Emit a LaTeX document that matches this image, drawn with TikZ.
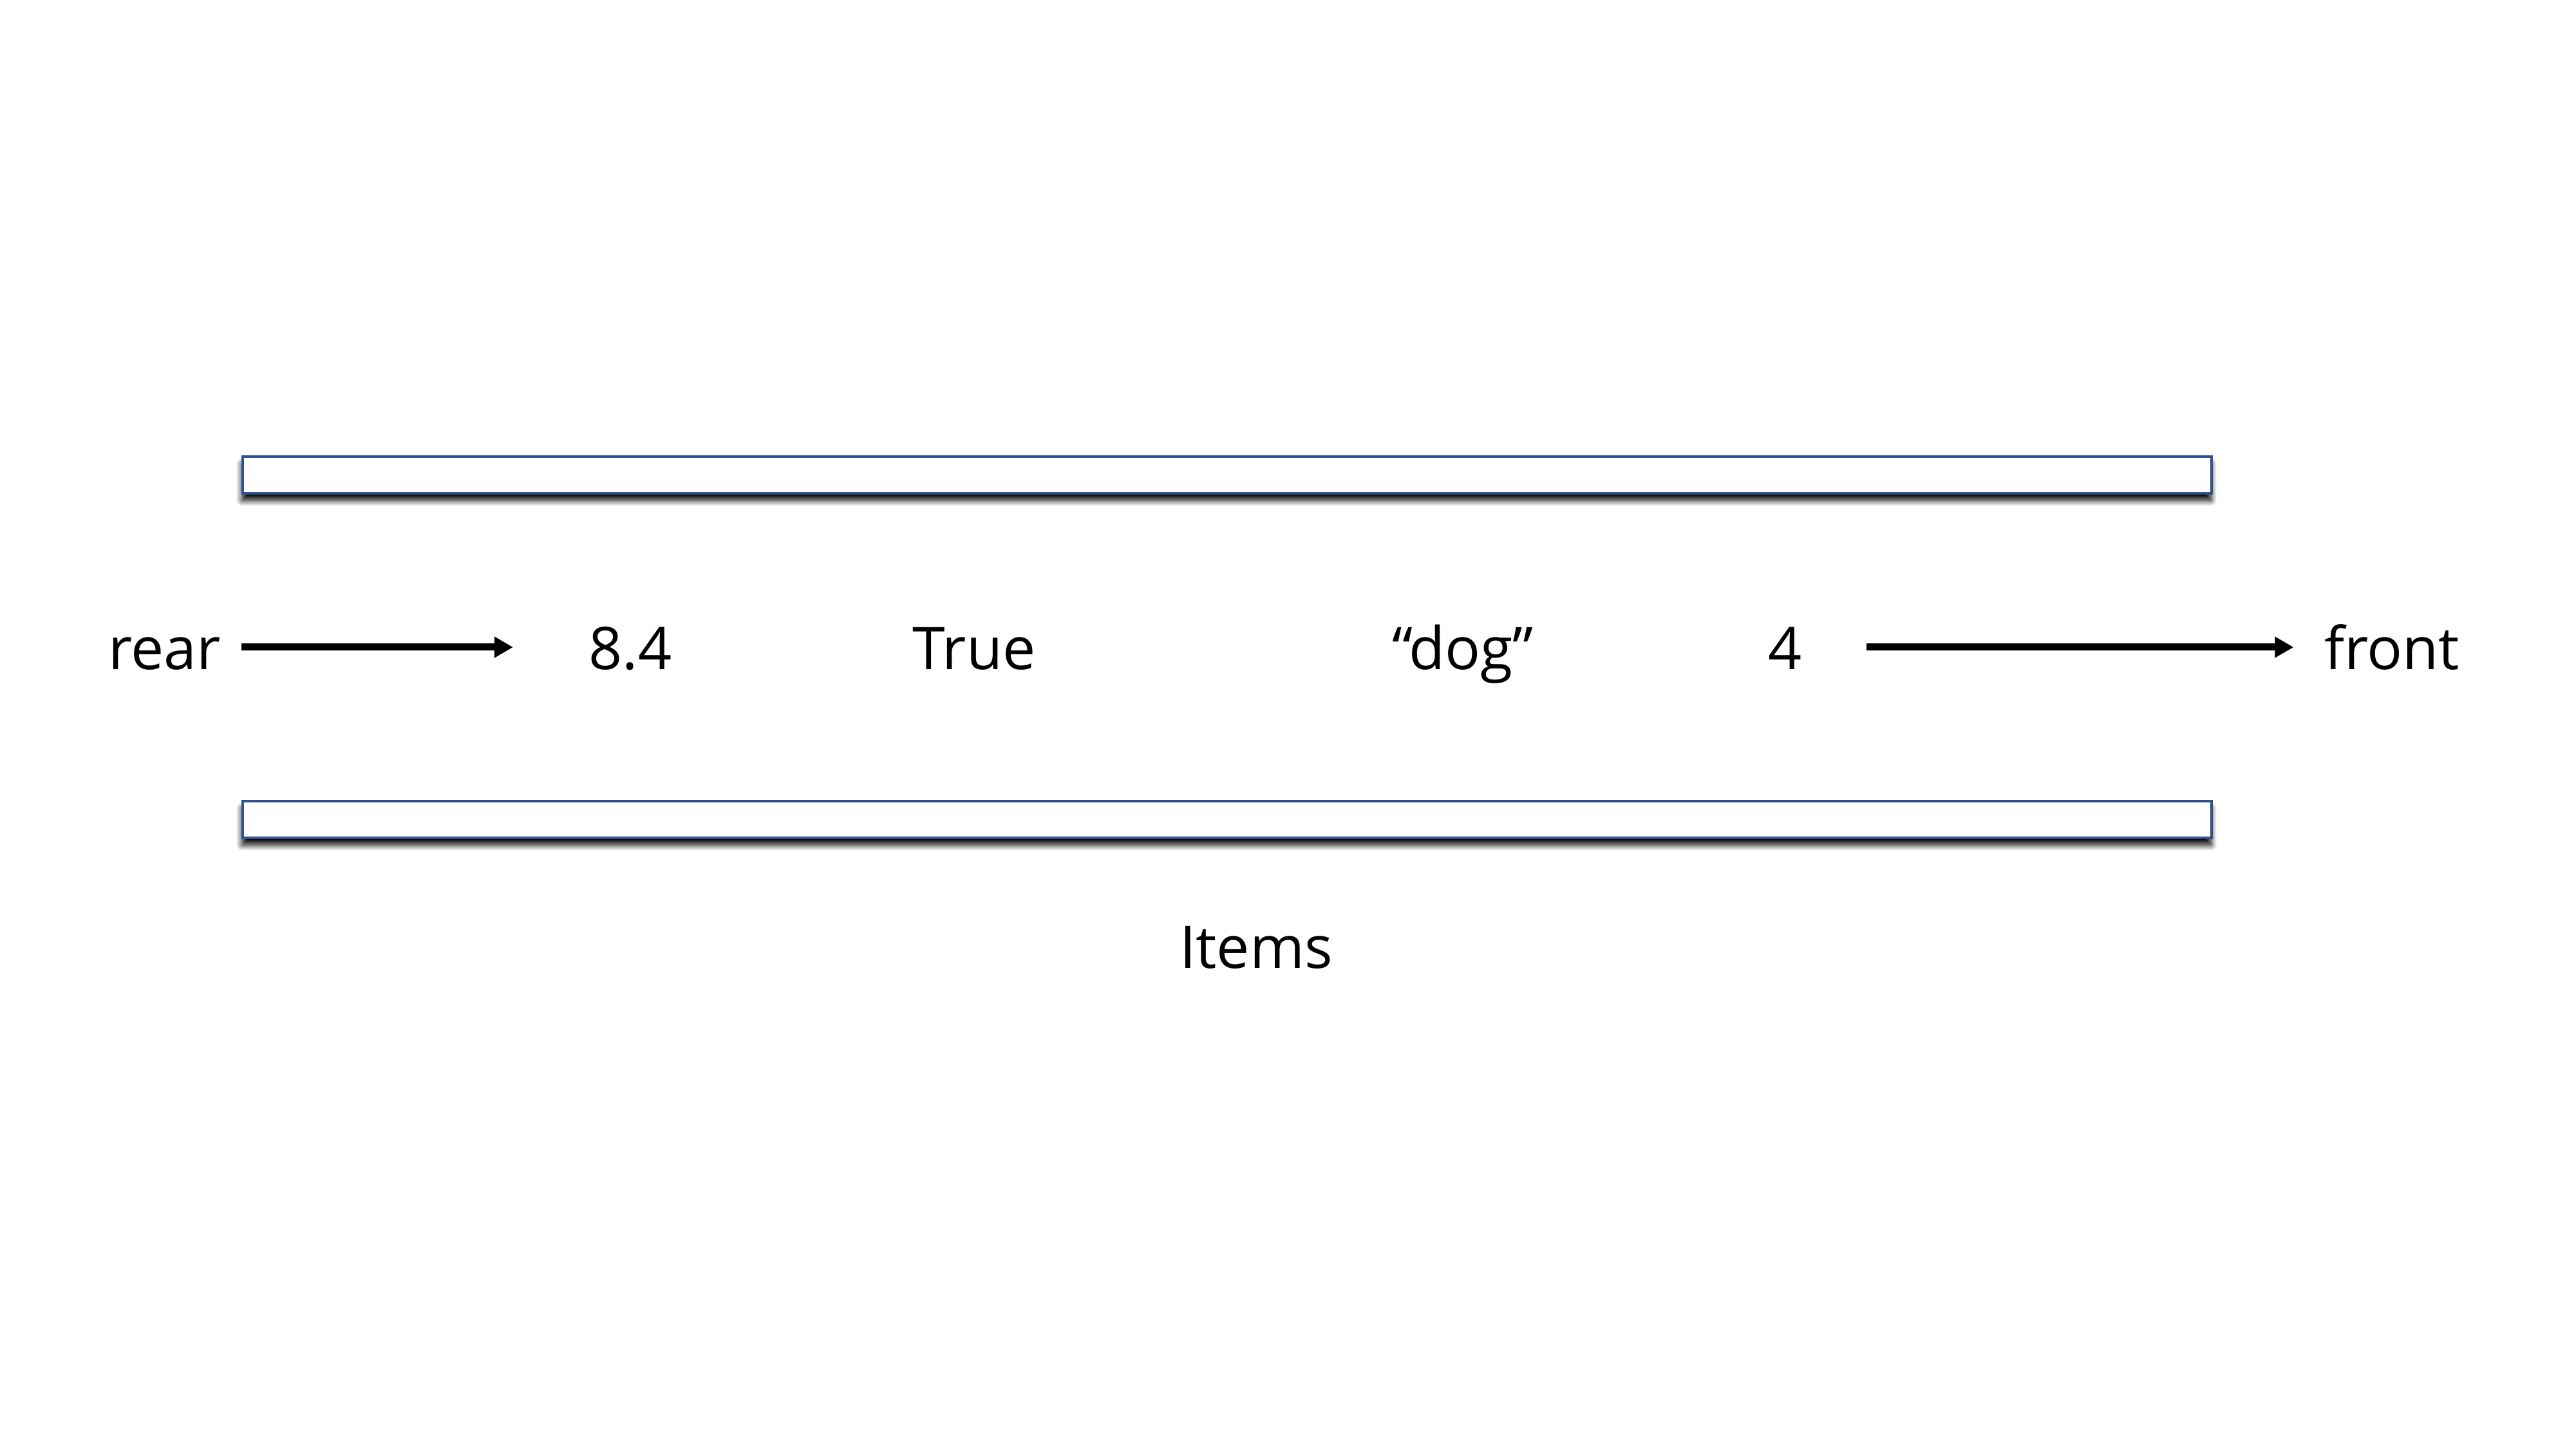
\documentclass[tikz,border=0pt]{standalone}
\usepackage{fontspec}
\setmainfont{Open Sans}
\usetikzlibrary{arrows.meta, positioning, shadows.blur}

\definecolor{barblue}{RGB}{47,82,143}

\begin{document}
\begin{tikzpicture}[
  bar/.style={rectangle, draw=barblue, line width=0.04cm, fill=white,
              minimum width=30.58cm, minimum height=0.57cm, inner sep=0pt,
              blur shadow={shadow xshift=-0.01cm, shadow yshift=-0.11cm,
                           shadow blur radius=0.09cm, shadow opacity=100,
                           shadow blur steps=12}},
  lbl/.style={inner sep=0pt, anchor=base, text height=0.85cm, text depth=0.15cm,
              font=\fontsize{26pt}{31pt}\selectfont},
  arrow/.style={-{Triangle[length=0.29cm, width=0.31cm]}, line width=0.11cm},
]
\useasboundingbox (0,0) rectangle (40.01,-22.5);

% ---- queue walls ----
\node[bar] (topbar)    at (19.06,-7.375)  {};
\node[bar] (bottombar) at (19.06,-12.725) {};

% ---- labels ----
\node[lbl] (rear)  at (2.555,-10.40) {rear};
\node[lbl] (v84)   at (9.79,-10.40)  {8.4};
\node[lbl] (vtrue) at (15.13,-10.40) {True};
\node[lbl] (vdog)  at (22.72,-10.40) {“dog”};
\node[lbl] (vfour) at (27.73,-10.40) {4};
\node[lbl] (front) at (37.15,-10.40) {front};

\node[lbl, text height=, text depth=] (items) at (19.51,-15.03) {Items};

% ---- arrows ----
\draw[arrow, shorten <=0.31cm, shorten >=1.17cm] (rear) -- (v84);
\draw[arrow, shorten <=0.99cm, shorten >=0.47cm] (vfour) -- (front);

\end{tikzpicture}
\end{document}
